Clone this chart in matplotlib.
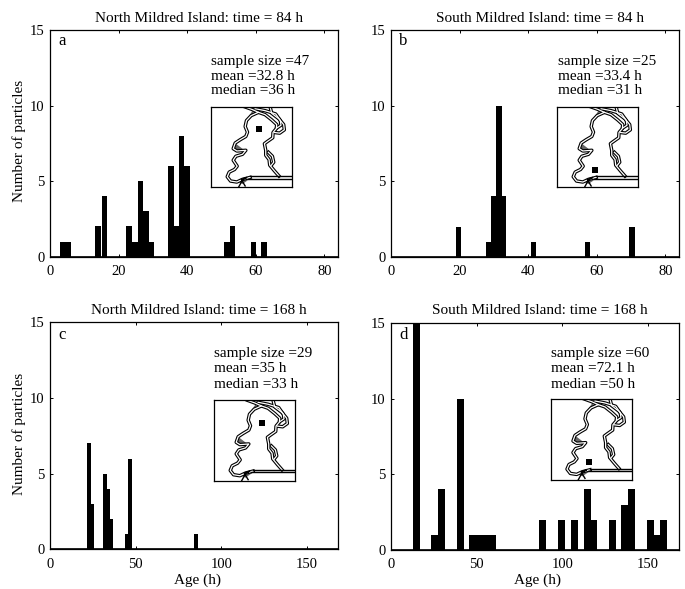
import matplotlib
matplotlib.use('Agg')
import matplotlib.pyplot as plt

plt.rcParams['font.family'] = ['Liberation Serif', 'DejaVu Serif']

W, H = 685, 589

titles = ['North Mildred Island: time = 84 h', 'South Mildred Island: time = 84 h',
          'North Mildred Island: time = 168 h', 'South Mildred Island: time = 168 h']
letters = ['a', 'b', 'c', 'd']
stats = [['sample size =47', 'mean =32.8 h', 'median =36 h'],
         ['sample size =25', 'mean =33.4 h', 'median =31 h'],
         ['sample size =29', 'mean =35 h', 'median =33 h'],
         ['sample size =60', 'mean =72.1 h', 'median =50 h']]

ages_a = [3.65, 5.3, 14.0, 15.8, 23.0, 24.7, 26.3, 27.9, 29.5, 35.2, 36.8, 38.3, 39.9, 51.6, 53.2, 59.3, 62.3]
counts_a = [1, 1, 2, 4, 2, 1, 5, 3, 1, 6, 2, 8, 6, 1, 2, 1, 1]
ages_b = [19.7, 28.6, 29.9, 31.4, 32.8, 41.6, 57.3, 70.2]
counts_b = [2, 1, 4, 10, 4, 1, 1, 2]
ages_c = [22.6, 24.7, 32.1, 34.2, 35.8, 44.7, 46.7, 85.2]
counts_c = [7, 3, 5, 4, 2, 1, 6, 1]
ages_d = [14.8, 25.4, 29.5, 40.6, 47.6, 51.5, 55.3, 59.2, 88.5, 99.6, 107.0, 114.6, 118.4,
          129.3, 136.3, 140.4, 151.5, 155.0, 158.8]
counts_d = [15, 1, 4, 10, 1, 1, 1, 1, 2, 2, 2, 4, 2, 2, 3, 4, 2, 1, 2]

ages = [ages_a, ages_b, ages_c, ages_d]
counts = [counts_a, counts_b, counts_c, counts_d]
xmax = [84, 84, 168, 168]
xticks = [[0, 20, 40, 60, 80], [0, 20, 40, 60, 80], [0, 50, 100, 150], [0, 50, 100, 150]]
yticks = [0, 5, 10, 15]

# outline of the island for the little maps, traced in crop pixels
channel_main = [(118, 18), (140, 26), (160, 35), (138, 45), (124, 60), (120, 78), (127, 95), (122, 108),
                (105, 118), (90, 128), (84, 145), (95, 152), (122, 150), (112, 162), (92, 168), (84, 180),
                (96, 198), (88, 208), (72, 216), (66, 230), (76, 243), (95, 246), (112, 238), (135, 232)]
channel_east = [(160, 35), (180, 42), (200, 58), (215, 72), (214, 84), (204, 96), (203, 112), (186, 124),
                (178, 130), (182, 150), (182, 165), (192, 178), (194, 195), (208, 212), (222, 228)]
branch_ne = [(195, 18), (200, 38), (222, 55), (236, 72), (238, 88), (224, 98), (208, 96)]
branch_n = [(150, 24), (180, 30), (212, 40), (226, 60), (228, 74), (216, 82)]
branch_e = [(190, 156), (202, 168), (206, 186), (198, 196)]
bay_top = [(135, 229), (262, 229)]
bay_low = [(128, 236), (262, 236)]
south_fan = [(100, 262), (112, 240), (125, 232), (108, 238), (120, 258)]
wedge_w = [(92, 130), (86, 152), (118, 150), (92, 130)]
wedge_s = [(100, 246), (125, 232), (135, 236), (112, 252), (100, 246)]
wedge_n = [(128, 52), (142, 30), (146, 36), (134, 54), (128, 52)]

maps = [channel_main, channel_east, branch_ne, branch_n, branch_e]

# pixel places: axes box left, top, right, bottom
boxes = [(50.3, 30, 338, 256.7), (391, 30, 679, 257), (50, 322.3, 338, 549.3), (391, 323, 679, 550)]
insets = [(211.3, 106.7, 292.3, 187.3), (557.3, 106.7, 638.3, 187.3),
          (214.3, 400.3, 295.3, 481), (551, 399, 632.3, 479.7)]
squares = [(0.593, 0.277), (0.465, 0.78), (0.584, 0.277), (0.467, 0.777)]
text_x = [211.3, 558.3, 214.3, 551]
text_y = [[61, 76.3, 91], [61, 76.3, 91], [354, 369, 384], [354, 369, 384]]
title_pos = [(198.8, 18), (539.7, 18), (198.5, 310.7), (539.5, 310.7)]
letter_pos = [(58, 41), (399.3, 41), (58, 335), (399, 335)]
widths = [1.66, 1.66, 2.1, 3.9]


def add_axes(box):
    l, t, r, b = box
    return fig.add_axes([l / W, 1 - b / H, (r - l) / W, (b - t) / H])


def ftext(x, y, s, **kw):
    fig.text(x / W, 1 - y / H, s, va='center', color='black', **kw)


fig = plt.figure(figsize=(W / 100, H / 100), dpi=100)

for i in range(4):
    ax = add_axes(boxes[i])
    ax.bar(ages[i], counts[i], width=widths[i], color='black', linewidth=0)
    ax.axhline(0, color='black', lw=1.2)
    ax.set_xlim(0, xmax[i])
    ax.set_ylim(0, 15)
    ax.set_xticks(xticks[i])
    ax.set_yticks(yticks)
    ax.tick_params(direction='in', length=2.5, width=0.7, top=True, right=True, labelsize=10.5)
    ax.tick_params(axis='x', pad=6)
    ax.tick_params(axis='y', pad=4)
    for s in ax.spines.values():
        s.set_linewidth(0.9)

    ftext(title_pos[i][0], title_pos[i][1], titles[i], ha='center', fontsize=11)
    ftext(letter_pos[i][0], letter_pos[i][1], letters[i], ha='left', fontsize=12)
    for j in range(3):
        ftext(text_x[i], text_y[i][j], stats[i][j], ha='left', fontsize=11)

    m = add_axes(insets[i])
    m.set_xlim(18, 262)
    m.set_ylim(262, 18)
    m.set_xticks([])
    m.set_yticks([])
    for s in m.spines.values():
        s.set_linewidth(0.9)
    for line in maps:
        m.plot([p[0] for p in line], [p[1] for p in line], color='black', lw=2.5, solid_joinstyle='round')
    for line in maps:
        m.plot([p[0] for p in line], [p[1] for p in line], color='white', lw=0.9, solid_joinstyle='round')
    for line in [bay_top, bay_low, south_fan]:
        m.plot([p[0] for p in line], [p[1] for p in line], color='black', lw=1.0)
    for w in [wedge_w, wedge_s, wedge_n]:
        m.fill([p[0] for p in w], [p[1] for p in w], color='black', alpha=0.6, lw=0)
    sx = 18 + squares[i][0] * 244
    sy = 18 + squares[i][1] * 244
    m.plot([sx], [sy], marker='s', ms=4.4, color='black', mew=0)

ftext(19, 141, 'Number of particles', ha='center', rotation=90, fontsize=11)
ftext(19, 434, 'Number of particles', ha='center', rotation=90, fontsize=11)
ftext(197, 580.7, 'Age (h)', ha='center', fontsize=11)
ftext(537.5, 580.7, 'Age (h)', ha='center', fontsize=11)

fig.savefig('out.png', dpi=100)
